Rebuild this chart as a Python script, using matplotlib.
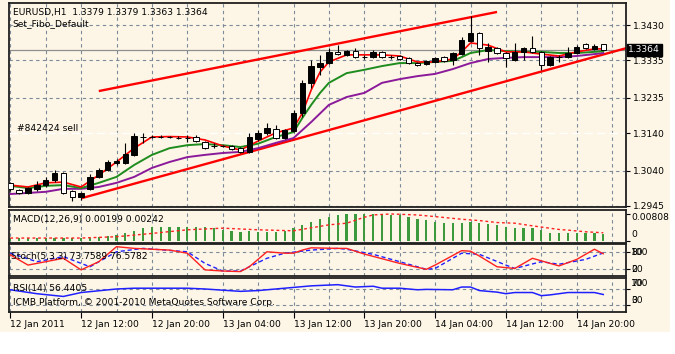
import matplotlib
matplotlib.use('Agg')
import matplotlib.pyplot as plt
from matplotlib.patches import Rectangle
from matplotlib.transforms import blended_transform_factory

W, H = 675, 354
BG = '#fdf6e6'
GRID = '#7d8a99'
FS = 6.6

# EURUSD H1 candles (12 - 14 Jan 2011)
opens = [1.3007, 1.2988, 1.2980, 1.2991, 1.3001, 1.3015, 1.3033, 1.2985, 1.2969, 1.2991,
         1.3023, 1.3041, 1.3060, 1.3060, 1.3082, 1.3131, 1.3130, 1.3131, 1.3130, 1.3128,
         1.3127, 1.3131, 1.3117, 1.3105, 1.3106, 1.3106, 1.3100, 1.3090, 1.3124, 1.3141,
         1.3151, 1.3127, 1.3147, 1.3194, 1.3275, 1.3318, 1.3329, 1.3358, 1.3350, 1.3360,
         1.3345, 1.3344, 1.3358, 1.3345, 1.3347, 1.3341, 1.3329, 1.3325, 1.3331, 1.3343,
         1.3336, 1.3352, 1.3388, 1.3409, 1.3360, 1.3368, 1.3355, 1.3336, 1.3357, 1.3368,
         1.3357, 1.3323, 1.3344, 1.3344, 1.3355, 1.3379, 1.3366, 1.3379]
highs = [1.3010, 1.2991, 1.2996, 1.3012, 1.3023, 1.3041, 1.3036, 1.2988, 1.2983, 1.3031,
         1.3047, 1.3068, 1.3071, 1.3114, 1.3141, 1.3141, 1.3134, 1.3134, 1.3133, 1.3132,
         1.3135, 1.3135, 1.3119, 1.3114, 1.3108, 1.3108, 1.3103, 1.3141, 1.3149, 1.3168,
         1.3162, 1.3152, 1.3202, 1.3283, 1.3336, 1.3350, 1.3368, 1.3376, 1.3363, 1.3368,
         1.3350, 1.3362, 1.3361, 1.3350, 1.3350, 1.3344, 1.3331, 1.3337, 1.3345, 1.3347,
         1.3358, 1.3397, 1.3454, 1.3412, 1.3382, 1.3371, 1.3358, 1.3381, 1.3371, 1.3401,
         1.3360, 1.3346, 1.3350, 1.3371, 1.3376, 1.3382, 1.3378, 1.3379]
lows = [1.2985, 1.2977, 1.2977, 1.2985, 1.2996, 1.3009, 1.2977, 1.2958, 1.2961, 1.2988,
        1.3020, 1.3038, 1.3055, 1.3057, 1.3079, 1.3114, 1.3127, 1.3127, 1.3126, 1.3124,
        1.3117, 1.3116, 1.3098, 1.3100, 1.3102, 1.3095, 1.3088, 1.3087, 1.3118, 1.3135,
        1.3125, 1.3124, 1.3144, 1.3184, 1.3261, 1.3296, 1.3326, 1.3350, 1.3347, 1.3342,
        1.3340, 1.3342, 1.3342, 1.3340, 1.3336, 1.3326, 1.3320, 1.3322, 1.3329, 1.3331,
        1.3323, 1.3350, 1.3385, 1.3350, 1.3332, 1.3353, 1.3318, 1.3333, 1.3336, 1.3355,
        1.3310, 1.3320, 1.3332, 1.3342, 1.3352, 1.3365, 1.3363, 1.3363]
closes = [1.2991, 1.2980, 1.2993, 1.3001, 1.3015, 1.3033, 1.2980, 1.2969, 1.2980, 1.3023,
          1.3041, 1.3063, 1.3066, 1.3084, 1.3133, 1.3129, 1.3131, 1.3130, 1.3129, 1.3127,
          1.3128, 1.3118, 1.3100, 1.3106, 1.3105, 1.3098, 1.3090, 1.3131, 1.3141, 1.3154,
          1.3127, 1.3149, 1.3194, 1.3275, 1.3320, 1.3329, 1.3358, 1.3352, 1.3360, 1.3345,
          1.3344, 1.3358, 1.3344, 1.3344, 1.3339, 1.3329, 1.3322, 1.3334, 1.3342, 1.3334,
          1.3354, 1.3390, 1.3409, 1.3368, 1.3372, 1.3356, 1.3341, 1.3357, 1.3368, 1.3357,
          1.3323, 1.3344, 1.3345, 1.3356, 1.3371, 1.3368, 1.3374, 1.3364]

# moving averages (bar index, price)
red_idx = [0, 2, 4, 6, 8, 10, 12, 14, 16, 18, 20, 22, 24, 26, 28, 30, 32, 33, 34, 35,
           36, 38, 40, 42, 44, 46, 48, 50, 51, 52, 54, 56, 58, 60, 62, 64, 66, 67]
red_ma = [1.3001, 1.2996, 1.3007, 1.3009, 1.2996, 1.3028, 1.3063, 1.3100, 1.3130, 1.3131,
          1.3130, 1.3122, 1.3106, 1.3095, 1.3119, 1.3141, 1.3154, 1.3194, 1.3256, 1.3304,
          1.3331, 1.3350, 1.3350, 1.3350, 1.3347, 1.3331, 1.3331, 1.3339, 1.3358, 1.3382,
          1.3376, 1.3358, 1.3358, 1.3352, 1.3347, 1.3358, 1.3366, 1.3366]
green_idx = red_idx
green_ma = [1.2999, 1.2993, 1.2999, 1.3001, 1.2993, 1.3007, 1.3023, 1.3055, 1.3082, 1.3100,
            1.3108, 1.3111, 1.3108, 1.3103, 1.3112, 1.3130, 1.3143, 1.3181, 1.3216, 1.3248,
            1.3275, 1.3301, 1.3310, 1.3320, 1.3328, 1.3328, 1.3331, 1.3334, 1.3344, 1.3355,
            1.3363, 1.3360, 1.3358, 1.3358, 1.3355, 1.3355, 1.3358, 1.3360]
purple_idx = [0, 2, 4, 6, 8, 10, 12, 14, 16, 18, 20, 22, 24, 26, 28, 30, 32, 34, 36, 38,
              40, 42, 44, 46, 48, 50, 52, 54, 56, 58, 60, 62, 64, 66, 67]
purple_ma = [1.2977, 1.2980, 1.2983, 1.2991, 1.2991, 1.2996, 1.3007, 1.3023, 1.3047, 1.3063,
             1.3076, 1.3082, 1.3087, 1.3090, 1.3100, 1.3114, 1.3127, 1.3170, 1.3216, 1.3237,
             1.3248, 1.3275, 1.3285, 1.3293, 1.3299, 1.3312, 1.3328, 1.3339, 1.3342, 1.3344,
             1.3344, 1.3344, 1.3347, 1.3352, 1.3355]

# trend lines
upper_idx = [10.0, 55.0]
upper_px = [1.3253, 1.3465]
lower_idx = [8.07, 69.6]
lower_px = [1.2966, 1.3368]

price_ticks = [1.3430, 1.3335, 1.3235, 1.3140, 1.3040, 1.2945]
bid = 1.3364
order_px = 1.3140

# MACD histogram per bar and signal
macd = [0.0009, 0.0008, 0.0008, 0.0008, 0.0008, 0.0009, 0.0008, 0.0007, 0.0007, 0.0009,
        0.0011, 0.0014, 0.0017, 0.0024, 0.0030, 0.0038, 0.0040, 0.0042, 0.0042, 0.0042,
        0.0042, 0.0042, 0.0040, 0.0038, 0.0032, 0.0030, 0.0027, 0.0030, 0.0027, 0.0027,
        0.0027, 0.0030, 0.0038, 0.0048, 0.0058, 0.0065, 0.0073, 0.0078, 0.0081, 0.0081,
        0.0081, 0.0081, 0.0081, 0.0078, 0.0078, 0.0073, 0.0065, 0.0063, 0.0058, 0.0055,
        0.0055, 0.0055, 0.0058, 0.0055, 0.0051, 0.0048, 0.0042, 0.0038, 0.0038, 0.0038,
        0.0032, 0.0024, 0.0022, 0.0022, 0.0022, 0.0022, 0.0022, 0.0019]
sig_idx = [0, 4, 8, 12, 16, 20, 24, 28, 32, 36, 38, 40, 41, 43, 46, 48, 51, 53, 55, 57,
           59, 62, 63, 65, 67]
sig_vals = [0.0008, 0.0008, 0.0008, 0.0012, 0.0022, 0.0033, 0.0038, 0.0033, 0.0030, 0.0048,
            0.0053, 0.0071, 0.0078, 0.0081, 0.0078, 0.0073, 0.0065, 0.0061, 0.0055, 0.0053,
            0.0045, 0.0034, 0.0032, 0.0027, 0.0024]

# Stochastic
sto_idx = [0, 2, 4, 6, 8, 10, 12, 14, 16, 18, 20, 22, 24, 26, 27, 29, 31, 32, 33, 34,
           37, 38, 40, 44, 47, 48, 51, 52, 53, 55, 57, 59, 62, 64, 66, 67]
sto_main = [70, 34, 46, 58, 17, 46, 99, 93, 90, 87, 76, 17, 13, 11, 28, 81, 76, 76, 87, 95,
            93, 93, 73, 40, 19, 34, 85, 83, 66, 28, 22, 58, 31, 54, 90, 74]
stos_idx = [0, 3, 6, 9, 12, 15, 20, 22, 24, 26, 29, 31, 34, 37, 38, 41, 44, 47, 48, 51,
            53, 56, 57, 60, 62, 65, 67]
sto_sig = [76, 46, 64, 28, 81, 93, 81, 40, 13, 13, 58, 76, 87, 93, 90, 72, 46, 19, 22, 76,
           72, 34, 22, 46, 37, 54, 77]

# RSI(14)
rsi_idx = [0, 3, 6, 8, 12, 14, 20, 22, 26, 28, 31, 34, 37, 39, 41, 42, 44, 46, 47, 50,
           51, 52, 53, 55, 56, 57, 59, 60, 61, 62, 63, 66, 67]
rsi = [68, 58, 51, 61, 70, 72, 72, 70, 64, 66, 72, 78, 81, 75, 77, 72, 72, 68, 69, 68,
       75, 75, 66, 62, 58, 61, 61, 53, 55, 58, 61, 61, 56]

time_idx = [0, 8, 16, 24, 32, 40, 48, 56, 64]
time_labels = ['12 Jan 2011', '12 Jan 12:00', '12 Jan 20:00', '13 Jan 04:00', '13 Jan 12:00',
               '13 Jan 20:00', '14 Jan 04:00', '14 Jan 12:00', '14 Jan 20:00']

plt.rcParams['font.family'] = ['DejaVu Sans']
fig = plt.figure(figsize=(W / 100, H / 100), dpi=100, facecolor=BG)
# white strips outside the terminal window
fig.patches.append(Rectangle((0, 0), 1, (H - 332) / H, transform=fig.transFigure,
                             color='white', zorder=-5))
fig.patches.append(Rectangle((670 / W, 0), 1, 1, transform=fig.transFigure,
                             color='white', zorder=-5))


def px_axes(left, top, right, bottom):
    a = fig.add_axes([left / W, 1 - bottom / H, (right - left) / W, (bottom - top) / H])
    a.set_facecolor(BG)
    a.set_xlim(-0.147, 69.57)
    for s in a.spines.values():
        s.set_linewidth(1.3)
        s.set_color('#202020')
    a.yaxis.tick_right()
    a.tick_params(axis='y', length=3, width=0.8, labelsize=FS, pad=2)
    a.tick_params(axis='x', length=0, labelbottom=False)
    for k in range(0, 18):
        a.axvline(4 * k, color=GRID, ls=(0, (3, 3)), lw=0.8, zorder=0)
    return a


ax = px_axes(9, 3, 626, 207)
ax_macd = px_axes(9, 210, 626, 243)
ax_sto = px_axes(9, 244, 626, 276)
ax_rsi = px_axes(9, 278, 626, 312)

# ---- main chart ----
ax.set_ylim(1.29423, 1.34890)
ax.set_yticks(price_ticks)
ax.set_yticklabels([f'{p:.4f}' for p in price_ticks])
for p in price_ticks:
    if p != order_px:
        ax.axhline(p, color=GRID, ls=(0, (3, 3)), lw=0.8, zorder=0)
ax.axhline(order_px, color='white', ls=(0, (6, 3)), lw=1.0, zorder=0.5)
ax.axhline(bid, color='#8f8f8f', lw=0.9, zorder=0.6)

ax.plot(upper_idx, upper_px, color='#ff0000', lw=1.7, zorder=2, solid_capstyle='butt')
ax.plot(lower_idx, lower_px, color='#ff0000', lw=1.7, zorder=2, solid_capstyle='butt')

ax.plot(purple_idx, purple_ma, color='#8b1a9b', lw=1.4, zorder=3)
ax.plot(green_idx, green_ma, color='#1e8c1e', lw=1.4, zorder=3)
ax.plot(red_idx, red_ma, color='#ff0000', lw=1.2, zorder=3)

for i, (o, h, l, c) in enumerate(zip(opens, highs, lows, closes)):
    ax.vlines(i, l, h, color='black', lw=0.8, zorder=4)
    bot = min(o, c)
    ht = max(abs(c - o), 0.00004)
    face = 'black' if c > o else 'white'
    ax.add_patch(Rectangle((i - 0.31, bot), 0.62, ht, facecolor=face, edgecolor='black',
                           lw=0.7, zorder=5))

ax.text(0.006, 0.955, 'EURUSD,H1  1.3379 1.3379 1.3363 1.3364', transform=ax.transAxes,
        fontsize=FS, va='center', ha='left')
ax.text(0.006, 0.9, 'Set_Fibo_Default', transform=ax.transAxes, fontsize=FS,
        va='center', ha='left')
ax.text(0.75, 1.3153, '#842424 sell', fontsize=FS, va='center', ha='left')

bt = blended_transform_factory(ax.transAxes, ax.transData)
ax.text(1.004, bid, '1.3364', transform=bt, fontsize=FS, color='white', va='center',
        ha='left', bbox=dict(boxstyle='square,pad=0.15', fc='black', ec='black'))

# ---- MACD ----
ax_macd.set_ylim(-0.0007, 0.0093)
ax_macd.bar(range(len(macd)), macd, width=0.25, color='#3c9a3c', zorder=2)
ax_macd.plot(sig_idx, sig_vals, color='#ff2020', ls=(0, (2, 2)), lw=1.0, zorder=3)
ax_macd.set_yticks([0.00808, 0])
ax_macd.set_yticklabels([])
ax_macd.text(1.008, 0.76, '0.00808', transform=ax_macd.transAxes, fontsize=FS, va='center')
ax_macd.text(1.008, 0.27, '0', transform=ax_macd.transAxes, fontsize=FS, va='center')
ax_macd.text(0.006, 0.7, 'MACD(12,26,9) 0.00199 0.00242', transform=ax_macd.transAxes,
             fontsize=FS, va='center')

# ---- Stochastic ----
ax_sto.set_ylim(-4.6, 108.5)
for lv in (80, 20):
    ax_sto.axhline(lv, color=GRID, ls=(0, (3, 3)), lw=0.8, zorder=0)
ax_sto.plot(stos_idx, sto_sig, color='#2020ff', ls=(0, (3, 2)), lw=1.0, zorder=2)
ax_sto.plot(sto_idx, sto_main, color='#ff2020', lw=1.0, zorder=3)
ax_sto.set_yticks([80, 20])
ax_sto.set_yticklabels([])
for lab, y in (('80', 80), ('100', 80), ('20', 20), ('0', 20)):
    ax_sto.text(1.008, y, lab, transform=blended_transform_factory(ax_sto.transAxes,
                ax_sto.transData), fontsize=FS, va='center')
ax_sto.text(0.003, 0.62, 'Stoch(5,3,3) 73.7589 76.5782', transform=ax_sto.transAxes,
            fontsize=FS, va='center')

# ---- RSI ----
ax_rsi.set_ylim(11.4, 98)
for lv in (70, 30):
    ax_rsi.axhline(lv, color=GRID, ls=(0, (3, 3)), lw=0.8, zorder=0)
ax_rsi.plot(rsi_idx, rsi, color='#2020ff', lw=1.1, zorder=2)
ax_rsi.set_yticks([70, 30])
ax_rsi.set_yticklabels([])
for lab, y in (('70', 83), ('100', 83), ('30', 40), ('0', 40)):
    ax_rsi.text(1.008, y, lab, transform=blended_transform_factory(ax_rsi.transAxes,
                ax_rsi.transData), fontsize=FS, va='center')
ax_rsi.text(0.006, 0.7, 'RSI(14) 56.4405', transform=ax_rsi.transAxes, fontsize=FS,
            va='center')
ax_rsi.text(0.006, 0.27, 'ICMB Platform, \u00a9 2001-2010 MetaQuotes Software Corp.',
            transform=ax_rsi.transAxes, fontsize=FS, va='center')

ax_rsi.set_xticks(time_idx)
ax_rsi.set_xticklabels(time_labels)
ax_rsi.tick_params(axis='x', length=4, width=0.8, direction='out', labelbottom=True,
                   labelsize=FS, pad=2)
for lab in ax_rsi.get_xticklabels():
    lab.set_ha('left')

fig.savefig('out.png', dpi=100, facecolor=BG)
